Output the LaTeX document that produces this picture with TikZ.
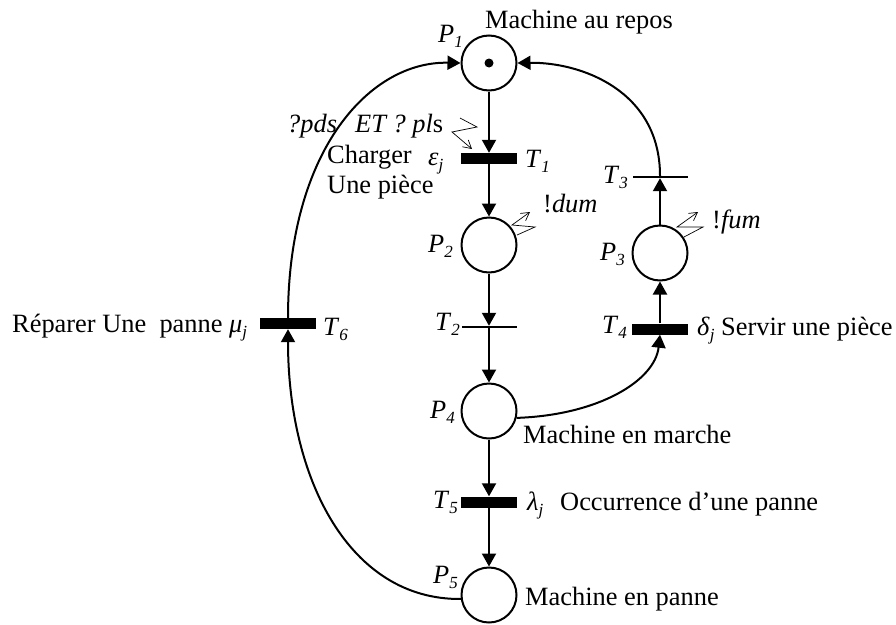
\documentclass[tikz,border=0pt]{standalone}
\usepackage{fontspec}
\setmainfont{Liberation Serif}
\usetikzlibrary{arrows.meta}
\newcommand\lb[2]{\textit{#1}\raisebox{-0.22em}{\fontsize{17}{17}\selectfont\textit{#2}}}
\begin{document}
\begin{tikzpicture}[x=1pt,y=-1pt,
 every node/.style={font=\fontsize{26.4}{30}\selectfont},
 place/.style={circle,draw,line width=2pt,minimum size=55pt,inner sep=0pt},
 tbar/.style={rectangle,fill=black,minimum width=56pt,minimum height=11pt,inner sep=0pt},
 tline/.style={rectangle,fill=black,minimum width=55pt,minimum height=2pt,inner sep=0pt},
 arc/.style={line width=2pt,-{Triangle[length=13pt,width=14pt]}},
 lbl/.style={anchor=base west,inner sep=0pt},
 zig/.style={line width=0.7pt,-{Straight Barb[length=8pt,width=9pt]}}]
\useasboundingbox (0,0) rectangle (896,624);
% places and transitions
\node[place] (P1) at (489,63) {};
\fill (P1.center) circle (4.5pt);
\node[tbar] (T1) at (489,158.5) {};
\node[place] (P2) at (489,245) {};
\node[tline] (T2) at (489,327) {};
\node[place] (P4) at (489,411) {};
\node[tbar] (T5) at (489,502) {};
\node[place] (P5) at (489,595) {};
\node[tline] (T3) at (660,177) {};
\node[place] (P3) at (660,253) {};
\node[tbar] (T4) at (660,329) {};
\node[tbar] (T6) at (288,323.5) {};
% arcs
\draw[arc] (P1) -- (T1.north);
\draw[arc] (T1) -- (P2);
\draw[arc] (P2) -- (T2.north);
\draw[arc] (T2) -- (P4);
\draw[arc] (P4) -- (T5.north);
\draw[arc] (T5) -- (P5);
\draw[arc] (T4) -- (P3);
\draw[arc] (P3) -- (T3.south);
\draw[arc] (T3.north) .. controls (660,90) and (580,62) .. (P1.east);
\draw[arc] (T6.north) .. controls (288,150) and (370,61) .. (P1.west);
\draw[arc] (P5.188) .. controls (350,600) and (288,480) .. (T6.south);
\draw[arc] (P4.-14) .. controls (600,415) and (655,380) .. (T4.south);
% zigzag signals
\coordinate (z1) at (460,118);
\coordinate (z2) at (517,235);
\coordinate (z3) at (684,237);
\draw[zig] (z1) -- ++(17,9) -- ++(-25,5) -- (472,149);
\draw[zig] (z2) -- ++(18,-8) -- ++(-23,-2) -- (530,212);
\draw[zig] (z3) -- ++(19,-10) -- ++(-26,0) -- (698,212);
% labels
\node[lbl] (l1) at (485,28) {Machine au repos};
\node[lbl] (lP1) at (438,42) {\lb{P}{1}};
\node[lbl] (l2) at (287,132) {\textit{?pds}};
\node[lbl] (l3) at (355,132) {\textit{ET ? pl}s};
\node[lbl] (l4) at (327,163) {Charger};
\node[lbl] (l5) at (428,165) {\lb{ε}{j}};
\node[lbl] (l6) at (327,193) {Une pièce};
\node[lbl] (lT1) at (525,167) {\lb{T}{1}};
\node[lbl] (l7) at (543,212) {!\textit{dum}};
\node[lbl] (lP2) at (428,252) {\lb{P}{2}};
\node[lbl] (lT2) at (435,330) {\lb{T}{2}};
\node[lbl] (lP3) at (600,260) {\lb{P}{3}};
\node[lbl] (l8) at (712,228) {!\textit{fum}};
\node[lbl] (lT3) at (603,183) {\lb{T}{3}};
\node[lbl] (lT4) at (602,333) {\lb{T}{4}};
\node[lbl] (l9) at (697,335) {\lb{δ}{j} Servir une pièce};
\node[lbl] (l10) at (12,332) {Réparer Une\ \ panne \lb{μ}{j}};
\node[lbl] (lT6) at (323,335) {\lb{T}{6}};
\node[lbl] (lP4) at (430,418) {\lb{P}{4}};
\node[lbl] (l11) at (523,443) {Machine en marche};
\node[lbl] (lT5) at (433,508) {\lb{T}{5}};
\node[lbl] (l12) at (527,510) {\lb{λ}{j}};
\node[lbl] (l13) at (560,510) {Occurrence d’une panne};
\node[lbl] (lP5) at (433,583) {\lb{P}{5}};
\node[lbl] (l14) at (525,605) {Machine en panne};
\end{tikzpicture}
\end{document}
